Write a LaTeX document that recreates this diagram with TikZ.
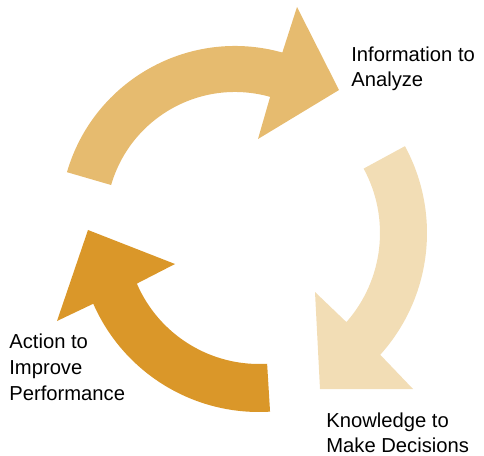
\documentclass[tikz,border=0pt]{standalone}
\usepackage{fontspec}
\setmainfont{Liberation Sans}
\usepackage{tikz}
\usetikzlibrary{calc,positioning}
\definecolor{goldlight}{RGB}{230,187,111}
\definecolor{goldpale}{RGB}{242,221,181}
\definecolor{golddark}{RGB}{218,151,41}

\begin{document}
\begin{tikzpicture}[x=0.02cm,y=-0.02cm,
    label/.style={anchor=north west,inner sep=0pt,align=left,font=\fontsize{11.5}{13.8}\selectfont}]
           \useasboundingbox (0,0) rectangle (484,456);
           \coordinate (c_top) at (235,221);
           \coordinate (c_right) at (245,233);
           \coordinate (c_left) at (259,231);
           % info arrow
           \fill[goldlight] ($(c_top)+(-163.8:175)$) arc[start angle=-163.8,end angle=-74.3,radius=175]
            -- (297,7) -- (339,90) -- (258,139)
            -- ($(c_top)+(-74.2:129)$) arc[start angle=-74.2,end angle=-163.8,radius=129] -- cycle;
           % knowledge arrow
           \fill[goldpale] ($(c_right)+(-28.5:182)$) arc[start angle=-28.5,end angle=42,radius=182]
            -- (413,389) -- (320,389) -- (315,292)
            -- ($(c_right)+(41.3:135)$) arc[start angle=41.3,end angle=-28.5,radius=135] -- cycle;
           % action arrow
           \fill[golddark] ($(c_left)+(86.5:181)$) arc[start angle=86.5,end angle=156.3,radius=181]
            -- (57,321) -- (88,230) -- (175,264)
            -- ($(c_left)+(156.7:133)$) arc[start angle=156.7,end angle=86.5,radius=133] -- cycle;
           \node[label] (info) at (351,47) {Information to\\Analyze};
           \node[label] (knowledge) at (326,413) {Knowledge to\\Make Decisions};
           \node[label] (action) at (9,334) {Action to\\[1pt]Improve\\[1pt]Performance};
\end{tikzpicture}
\end{document}
